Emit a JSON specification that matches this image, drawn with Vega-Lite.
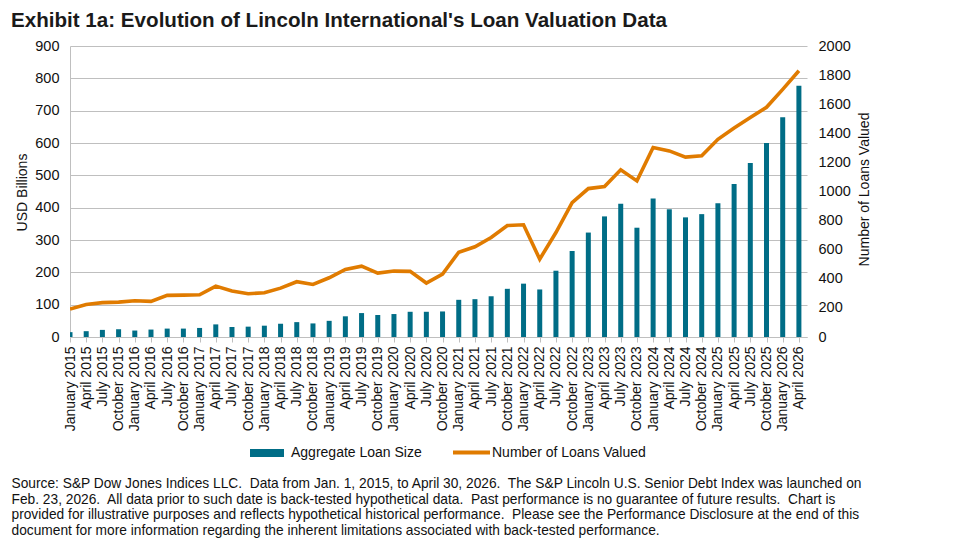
{"$schema":"https://vega.github.io/schema/vega-lite/v6.json","autosize":"none","width":737,"height":291,"padding":{"left":70,"top":46,"right":148,"bottom":204},"background":"white",
"title":{"text":"Exhibit 1a: Evolution of Lincoln International's Loan Valuation Data","anchor":"start","frame":"group","dx":-59,"offset":6,"font":"Liberation Sans","fontSize":20.6,"fontWeight":"bold","color":"#1a1a1a"},
"config":{"view":{"stroke":null},"font":"Liberation Sans"},
"data":{"values":[
{"q":"January 2015","loans":15,"n":192},{"q":"April 2015","loans":18,"n":224},{"q":"July 2015","loans":22,"n":236},{"q":"October 2015","loans":24,"n":240},
{"q":"January 2016","loans":20,"n":249},{"q":"April 2016","loans":23,"n":245},{"q":"July 2016","loans":26,"n":286},{"q":"October 2016","loans":26,"n":288},
{"q":"January 2017","loans":28,"n":290},{"q":"April 2017","loans":39,"n":350},{"q":"July 2017","loans":31,"n":316},{"q":"October 2017","loans":32,"n":297},
{"q":"January 2018","loans":35,"n":304},{"q":"April 2018","loans":41,"n":336},{"q":"July 2018","loans":46,"n":380},{"q":"October 2018","loans":42,"n":361},
{"q":"January 2019","loans":50,"n":407},{"q":"April 2019","loans":64,"n":464},{"q":"July 2019","loans":74,"n":487},{"q":"October 2019","loans":68,"n":439},
{"q":"January 2020","loans":71,"n":453},{"q":"April 2020","loans":78,"n":451},{"q":"July 2020","loans":78,"n":371},{"q":"October 2020","loans":79,"n":432},
{"q":"January 2021","loans":115,"n":583},{"q":"April 2021","loans":117,"n":620},{"q":"July 2021","loans":126,"n":684},{"q":"October 2021","loans":149,"n":766},
{"q":"January 2022","loans":165,"n":771},{"q":"April 2022","loans":147,"n":535},{"q":"July 2022","loans":205,"n":718},{"q":"October 2022","loans":266,"n":924},
{"q":"January 2023","loans":323,"n":1020},{"q":"April 2023","loans":373,"n":1034},{"q":"July 2023","loans":412,"n":1149},{"q":"October 2023","loans":338,"n":1073},
{"q":"January 2024","loans":428,"n":1302},{"q":"April 2024","loans":395,"n":1279},{"q":"July 2024","loans":370,"n":1236},{"q":"October 2024","loans":380,"n":1245},
{"q":"January 2025","loans":414,"n":1359},{"q":"April 2025","loans":473,"n":1437},{"q":"July 2025","loans":538,"n":1508},{"q":"October 2025","loans":600,"n":1579},
{"q":"January 2026","loans":680,"n":1702},{"q":"April 2026","loans":777,"n":1830}
]},
"encoding":{"x":{"field":"q","type":"ordinal","sort":null,"scale":{"type":"point","padding":0.25,"align":0},
"axis":{"labelAngle":-90,"labelAlign":"right","labelBaseline":"middle","labelFont":"Liberation Sans","labelFontSize":14,"labelColor":"#111111","labelOverlap":false,"labelPadding":4,"tickColor":"#bfbfbf","tickSize":5,"domainColor":"#bfbfbf","grid":false,
"title":["Source: S&P Dow Jones Indices LLC.\u00a0 Data from Jan. 1, 2015, to April 30, 2026.\u00a0 The S&P Lincoln U.S. Senior Debt Index was launched on","Feb. 23, 2026.\u00a0 All data prior to such date is back-tested hypothetical data.\u00a0 Past performance is no guarantee of future results.\u00a0 Chart is","provided for illustrative purposes and reflects hypothetical historical performance.\u00a0 Please see the Performance Disclosure at the end of this","document for more information regarding the inherent limitations associated with back-tested performance."],
"titleFont":"Liberation Sans","titleFontSize":13.76,"titleFontWeight":"normal","titleColor":"#111111","titleAlign":"left","titleAnchor":"start","titleBaseline":"top","titleX":-59,"titleY":139.5,"titleLineHeight":15.7}}},
"layer":[
{"mark":{"type":"bar","width":5,"clip":true,"fill":"#006d86"},
"encoding":{"y":{"field":"loans","type":"quantitative","scale":{"domain":[0,900]},
"axis":{"values":[0,100,200,300,400,500,600,700,800,900],"title":"USD Billions","titleFont":"Liberation Sans","titleFontSize":14,"titleFontWeight":"normal","titleColor":"#111111","titleX":-41,"titleY":146,"labelFont":"Liberation Sans","labelFontSize":14.5,"labelColor":"#111111","labelPadding":11,"ticks":false,"domainColor":"#bfbfbf","grid":true,"gridColor":"#bfbfbf","gridWidth":1}},
"fill":{"datum":"Aggregate Loan Size","scale":{"range":["#006d86"]},
"legend":{"orient":"none","legendX":180,"legendY":390,"title":null,"symbolType":"M-1,-0.235H1V0.235H-1Z","symbolSize":1156,"symbolStrokeWidth":0,"labelFont":"Liberation Sans","labelFontSize":14,"labelColor":"#111111","labelOffset":7}}}},
{"mark":{"type":"line","strokeWidth":3.6,"strokeJoin":"miter","clip":true},
"encoding":{"y":{"field":"n","type":"quantitative","scale":{"domain":[0,2000]},
"axis":{"orient":"right","values":[0,200,400,600,800,1000,1200,1400,1600,1800,2000],"format":"d","title":"Number of Loans Valued","titleAngle":-90,"titleFont":"Liberation Sans","titleFontSize":14,"titleFontWeight":"normal","titleColor":"#111111","titleX":64,"titleY":143,"labelFont":"Liberation Sans","labelFontSize":14.5,"labelColor":"#111111","labelPadding":11,"ticks":false,"domain":false,"grid":false}},
"stroke":{"datum":"Number of Loans Valued","scale":{"range":["#e07b00"]},
"legend":{"orient":"none","legendX":381,"legendY":386,"title":null,"symbolType":"M-1,0H1","symbolSize":1369,"symbolStrokeWidth":4,"labelFont":"Liberation Sans","labelFontSize":14,"labelColor":"#111111","labelOffset":0}}}}
],
"resolve":{"scale":{"y":"independent"}}}
